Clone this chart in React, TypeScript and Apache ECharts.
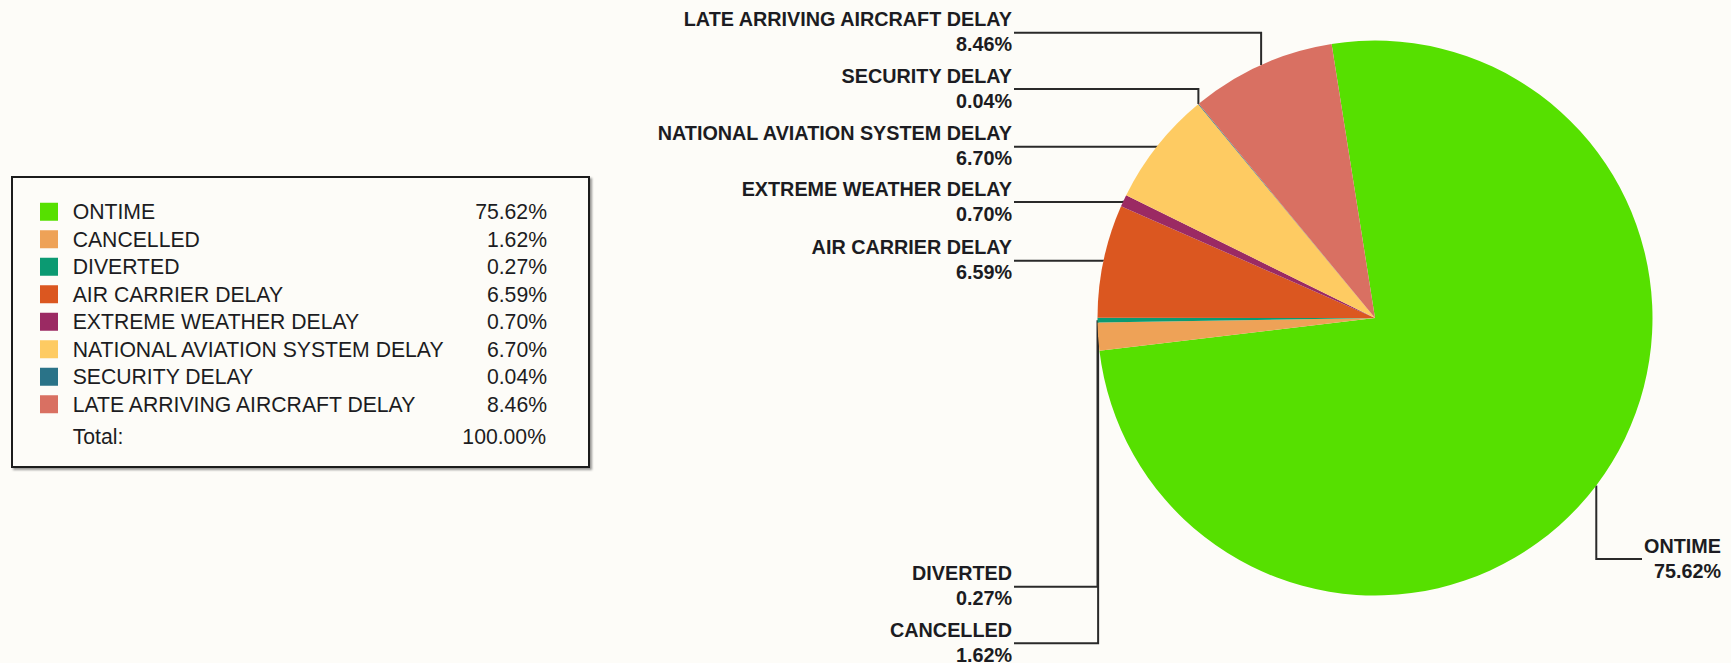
import React, { useEffect, useRef } from "react";
import * as echarts from "echarts";

// ---- data ----
const CATEGORIES: string[] = [
  "ONTIME",
  "CANCELLED",
  "DIVERTED",
  "AIR CARRIER DELAY",
  "EXTREME WEATHER DELAY",
  "NATIONAL AVIATION SYSTEM DELAY",
  "SECURITY DELAY",
  "LATE ARRIVING AIRCRAFT DELAY",
];
const SHARES: number[] = [75.62, 1.62, 0.27, 6.59, 0.7, 6.7, 0.04, 8.46];
const COLORS: string[] = [
  "#56e000",
  "#eea257",
  "#0b9a72",
  "#db5720",
  "#9b2a63",
  "#fecb62",
  "#2a7388",
  "#d97062",
];

// ---- layout (not data) ----
const BG = "#fdfcf8";
const PIE_CX = 1375;
const PIE_CY = 318;
const PIE_R = 277.5;
const START_ANGLE = 99;
// y of the horizontal leader segment for each label (same order as CATEGORIES)
const LABEL_LINE_Y: number[] = [559, 643.3, 586.7, 260.7, 202, 146.7, 89, 32.7];
const LEFT_LABEL_X = 1012;
const RIGHT_LABEL_X = 1721;
const RIGHT_LINE_END = 1642;
const TEXT_COLOR = "#1c1c22";
const LABEL_FONT = "'Liberation Sans', Arial, sans-serif";
const LEGEND_FS = 21.2;

function fallbackAnchor(i: number): number[] {
  const total = SHARES.reduce((a, b) => a + b, 0);
  let acc = 0;
  for (let k = 0; k < i; k++) acc += SHARES[k];
  const mid = acc + SHARES[i] / 2;
  const ang = ((START_ANGLE - (mid / total) * 360) * Math.PI) / 180;
  return [PIE_CX + PIE_R * Math.cos(ang), PIE_CY - PIE_R * Math.sin(ang)];
}

export default function App() {
  const ref = useRef<HTMLDivElement>(null);

  useEffect(() => {
    if (!ref.current) return;
    const chart = echarts.init(ref.current, null, { renderer: "svg" });
    const total = SHARES.reduce((a, b) => a + b, 0);

    const option: any = {
      animation: false,
      backgroundColor: BG,
      color: COLORS,
      legend: {
        orient: "vertical",
        left: 12,
        top: 177,
        padding: [21, 42, 49, 28],
        itemGap: 0,
        itemWidth: 18,
        itemHeight: 18,
        icon: "rect",
        selectedMode: false,
        borderColor: "#1e1e1e",
        borderWidth: 2,
        backgroundColor: BG,
        shadowColor: "rgba(0,0,0,0.4)",
        shadowBlur: 2,
        shadowOffsetX: 2,
        shadowOffsetY: 2,
        data: CATEGORIES,
        formatter: (name: string) => {
          const i = CATEGORIES.indexOf(name);
          return `{g| }{n|${name}}{v|${SHARES[i].toFixed(2)}%}`;
        },
        textStyle: {
          color: TEXT_COLOR,
          fontFamily: LABEL_FONT,
          fontSize: LEGEND_FS,
          lineHeight: 27.5,
          rich: {
            g: { width: 9.7, fontSize: LEGEND_FS, lineHeight: 27.5, fontFamily: LABEL_FONT },
            n: { width: 380, fontSize: LEGEND_FS, lineHeight: 27.5, fontFamily: LABEL_FONT, color: TEXT_COLOR },
            v: { width: 94.3, align: "right", fontSize: LEGEND_FS, lineHeight: 27.5, fontFamily: LABEL_FONT, color: TEXT_COLOR },
          },
        },
      },
      graphic: [
        {
          type: "text",
          z: 100,
          x: 72.7,
          y: 436.7,
          style: {
            text: "Total:",
            fontSize: LEGEND_FS,
            fontFamily: LABEL_FONT,
            fill: TEXT_COLOR,
            align: "left",
            verticalAlign: "middle",
          },
        },
        {
          type: "text",
          z: 100,
          x: 546,
          y: 436.7,
          style: {
            text: `${total.toFixed(2)}%`,
            fontSize: LEGEND_FS,
            fontFamily: LABEL_FONT,
            fill: TEXT_COLOR,
            align: "right",
            verticalAlign: "middle",
          },
        },
      ],
      series: [
        {
          type: "pie",
          center: [PIE_CX, PIE_CY],
          radius: PIE_R,
          startAngle: START_ANGLE,
          clockwise: true,
          avoidLabelOverlap: false,
          itemStyle: { borderWidth: 0 },
          emphasis: { disabled: true },
          label: {
            show: true,
            position: "outside",
            overflow: "none",
            color: TEXT_COLOR,
            fontFamily: LABEL_FONT,
            fontWeight: "bold",
            fontSize: 19.8,
            lineHeight: 25,
            formatter: (p: any) => `${p.name}\n${SHARES[p.dataIndex].toFixed(2)}%`,
          },
          labelLine: {
            show: true,
            length: 10,
            length2: 10,
            lineStyle: { color: "#2a2a2a", width: 2 },
          },
          labelLayout: (params: any) => {
            const i = params.dataIndex;
            const pts = params.labelLinePoints;
            const anchor = pts && pts[0] ? pts[0] : fallbackAnchor(i);
            const lineY = LABEL_LINE_Y[i];
            const isRight = anchor[0] > PIE_CX;
            if (isRight) {
              return {
                x: RIGHT_LABEL_X,
                y: lineY - 1,
                align: "right",
                verticalAlign: "middle",
                labelLinePoints: [anchor, [anchor[0], lineY], [RIGHT_LINE_END, lineY]],
              };
            }
            return {
              x: LEFT_LABEL_X,
              y: lineY - 1,
              align: "right",
              verticalAlign: "middle",
              labelLinePoints: [anchor, [anchor[0], lineY], [LEFT_LABEL_X + 2, lineY]],
            };
          },
          data: CATEGORIES.map((name, i) => ({ name, value: SHARES[i] })),
        },
      ],
    };

    chart.setOption(option);
    return () => chart.dispose();
  }, []);

  return (
    <div
      ref={ref}
      style={{ position: "fixed", left: 0, top: 0, width: 1731, height: 663, background: BG }}
    />
  );
}
